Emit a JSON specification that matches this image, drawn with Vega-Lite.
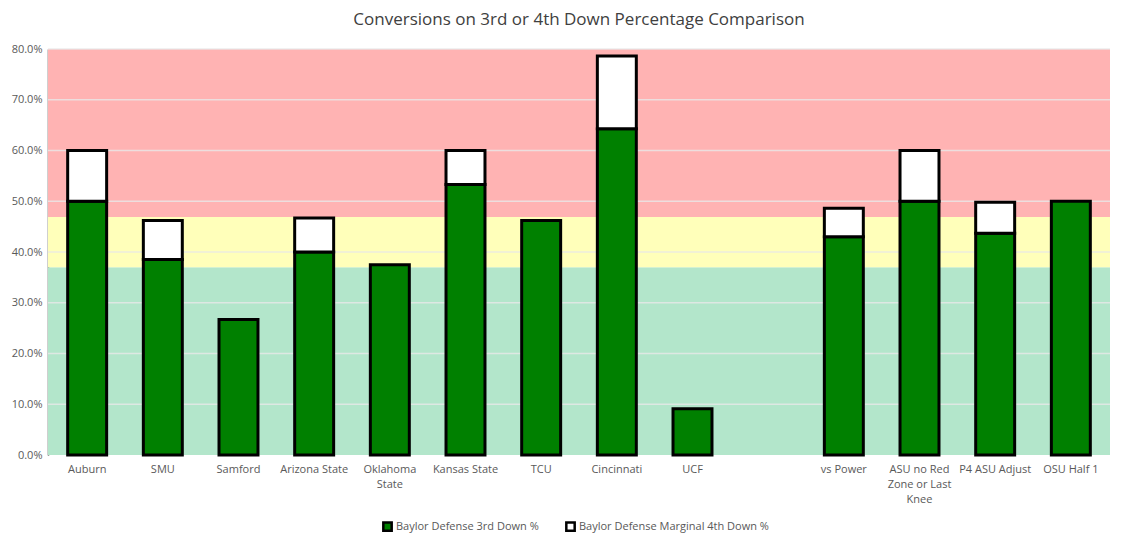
{
  "$schema": "https://vega.github.io/schema/vega-lite/v6.json",
  "width": 1062,
  "height": 406,
  "autosize": "none",
  "padding": {"left": 48, "top": 49, "right": 15, "bottom": 92},
  "background": "white",
  "config": {"font": "Open Sans", "view": {"stroke": null}},
  "title": {"text": "Conversions on 3rd or 4th Down Percentage Comparison", "fontSize": 17, "fontWeight": "normal", "color": "#404040", "offset": 14, "font": "Open Sans"},
  "layer": [
    {
      "data": {"values": [
        {"lo": 0, "hi": 0.37, "zone": "low"},
        {"lo": 0.37, "hi": 0.469, "zone": "mid"},
        {"lo": 0.469, "hi": 0.8, "zone": "high"}
      ]},
      "mark": {"type": "rect"},
      "encoding": {
        "y": {"field": "lo", "type": "quantitative", "scale": {"domain": [0, 0.8]}},
        "y2": {"field": "hi"},
        "fill": {"field": "zone", "type": "nominal", "scale": {"domain": ["low", "mid", "high"], "range": ["#B3E6CB", "#FFFFBA", "#FFB3B3"]}, "legend": null}
      }
    },
    {
      "data": {"values": [{"g": 0.1}, {"g": 0.2}, {"g": 0.3}, {"g": 0.4}, {"g": 0.5}, {"g": 0.6}, {"g": 0.7}, {"g": 0.8}]},
      "mark": {"type": "rule", "color": "#E8E8E8", "strokeWidth": 1.5, "opacity": 0.8},
      "encoding": {"y": {"field": "g", "type": "quantitative"}}
    },
    {
      "data": {"values": [
        {"team": "Auburn", "series": "Baylor Defense 3rd Down %", "value": 0.5},
        {"team": "Auburn", "series": "Baylor Defense Marginal 4th Down %", "value": 0.1},
        {"team": "SMU", "series": "Baylor Defense 3rd Down %", "value": 0.385},
        {"team": "SMU", "series": "Baylor Defense Marginal 4th Down %", "value": 0.077},
        {"team": "Samford", "series": "Baylor Defense 3rd Down %", "value": 0.267},
        {"team": "Arizona State", "series": "Baylor Defense 3rd Down %", "value": 0.4},
        {"team": "Arizona State", "series": "Baylor Defense Marginal 4th Down %", "value": 0.067},
        {"team": "Oklahoma State", "series": "Baylor Defense 3rd Down %", "value": 0.375},
        {"team": "Kansas State", "series": "Baylor Defense 3rd Down %", "value": 0.533},
        {"team": "Kansas State", "series": "Baylor Defense Marginal 4th Down %", "value": 0.067},
        {"team": "TCU", "series": "Baylor Defense 3rd Down %", "value": 0.462},
        {"team": "Cincinnati", "series": "Baylor Defense 3rd Down %", "value": 0.643},
        {"team": "Cincinnati", "series": "Baylor Defense Marginal 4th Down %", "value": 0.143},
        {"team": "UCF", "series": "Baylor Defense 3rd Down %", "value": 0.091},
        {"team": "vs Power", "series": "Baylor Defense 3rd Down %", "value": 0.43},
        {"team": "vs Power", "series": "Baylor Defense Marginal 4th Down %", "value": 0.056},
        {"team": "ASU no Red Zone or Last Knee", "series": "Baylor Defense 3rd Down %", "value": 0.5},
        {"team": "ASU no Red Zone or Last Knee", "series": "Baylor Defense Marginal 4th Down %", "value": 0.1},
        {"team": "P4 ASU Adjust", "series": "Baylor Defense 3rd Down %", "value": 0.437},
        {"team": "P4 ASU Adjust", "series": "Baylor Defense Marginal 4th Down %", "value": 0.061},
        {"team": "OSU Half 1", "series": "Baylor Defense 3rd Down %", "value": 0.5}
      ]},
      "mark": {"type": "bar", "stroke": "black", "strokeWidth": 3},
      "encoding": {
        "x": {
          "field": "team", "type": "nominal",
          "scale": {"domain": ["Auburn", "SMU", "Samford", "Arizona State", "Oklahoma State", "Kansas State", "TCU", "Cincinnati", "UCF", "gap", "vs Power", "ASU no Red Zone or Last Knee", "P4 ASU Adjust", "OSU Half 1"], "paddingInner": 0.485, "paddingOuter": 0.26},
          "axis": {
            "title": null, "labelAngle": 0, "ticks": false, "domain": false,
            "labelColor": "#595959", "labelFontSize": 11, "labelPadding": 8, "labelLineHeight": 15,
            "labelExpr": "datum.value == 'Oklahoma State' ? ['Oklahoma', 'State'] : datum.value == 'ASU no Red Zone or Last Knee' ? ['ASU no Red', 'Zone or Last', 'Knee'] : datum.value == 'gap' ? '' : datum.value"
          }
        },
        "y": {
          "field": "value", "type": "quantitative", "stack": "zero",
          "axis": {"title": null, "format": ".1%", "values": [0, 0.1, 0.2, 0.3, 0.4, 0.5, 0.6, 0.7, 0.8], "grid": false, "ticks": false, "domain": true, "domainColor": "#404040", "domainWidth": 1.5, "labelColor": "#595959", "labelFontSize": 11, "labelPadding": 6}
        },
        "color": {
          "field": "series", "type": "nominal",
          "scale": {"domain": ["Baylor Defense 3rd Down %", "Baylor Defense Marginal 4th Down %"], "range": ["#008000", "#FFFFFF"]},
          "legend": {"title": null, "orient": "none", "direction": "horizontal", "legendX": 334, "legendY": 472, "labelColor": "#595959", "labelFontSize": 11, "labelLimit": 0, "symbolType": "square", "symbolStrokeColor": "black", "symbolStrokeWidth": 2.5, "symbolSize": 70, "columnPadding": 22, "labelOffset": 3}
        },
        "order": {"field": "series", "type": "nominal", "sort": "ascending"}
      }
    }
  ]
}
